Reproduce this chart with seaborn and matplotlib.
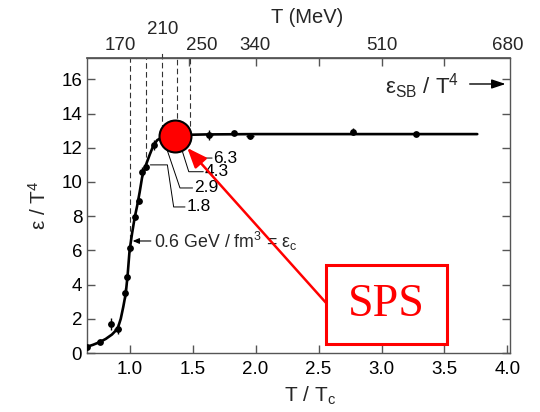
import matplotlib
matplotlib.use("Agg")
import matplotlib.pyplot as plt
import seaborn as sns
import numpy as np
import pandas as pd
from matplotlib.patches import Rectangle

# ---- data ----
curve_x = [0.66, 0.71, 0.76, 0.81, 0.86, 0.905, 0.93, 0.95, 0.97, 0.985, 1.0, 1.02, 1.04,
           1.06, 1.08, 1.10, 1.13, 1.16, 1.19, 1.22, 1.26, 1.32, 1.40, 1.60, 2.0, 2.5,
           3.0, 3.5, 3.76]
curve_y = [0.36, 0.48, 0.63, 0.82, 1.08, 1.42, 2.0, 2.7, 3.5, 4.6, 6.0, 7.0, 7.9,
           8.6, 9.4, 10.3, 11.0, 11.6, 12.15, 12.45, 12.62, 12.7, 12.75, 12.78, 12.8, 12.8,
           12.8, 12.8, 12.8]

pts_x = [0.66, 0.762, 0.852, 0.905, 0.966, 0.98, 1.0, 1.04, 1.077, 1.098, 1.13, 1.19,
         1.634, 1.825, 1.958, 2.77, 3.275]
pts_y = [0.37, 0.63, 1.70, 1.40, 3.49, 4.43, 6.12, 7.97, 8.89, 10.6, 10.9, 12.16,
         12.75, 12.85, 12.69, 12.94, 12.8]
pts_yerr = [0.1, 0.1, 0.35, 0.3, 0.3, 0.2, 0.2, 0.2, 0.2, 0.3, 0.2, 0.3,
            0.3, 0.1, 0.2, 0.2, 0.1]
pts_xerr = [0.0, 0.0, 0.02, 0.03, 0.01, 0.01, 0.01, 0.01, 0.01, 0.01, 0.01, 0.01,
            0.03, 0.01, 0.03, 0.0, 0.0]

# energy-density marks (GeV/fm^3) at T/Tc positions, and curve heights there
eps_x = [1.005, 1.13, 1.254, 1.376, 1.476]
eps_top = [17.25, 17.25, 17.6, 17.25, 17.25]
eps_bottom = [6.6, 10.95, 12.5, 12.7, 12.75]
eps_labels = ["1.8", "2.9", "4.3", "6.3"]

top_tick_vals = [1.47, 2.0, 2.5, 3.0, 3.5]
top_labels = ["170", "210", "250", "340", "510", "680"]
top_label_x = [0.926, 1.264, 1.575, 1.997, 3.0, 4.0]
top_label_y = [1.044, 1.095, 1.044, 1.044, 1.044, 1.044]

sps_x, sps_y = 1.363, 12.67

# ---- style ----
sns.set_theme(style="ticks")
plt.rcParams["font.family"] = ["Liberation Sans", "DejaVu Sans"]
plt.rcParams["mathtext.fontset"] = "custom"
plt.rcParams["mathtext.rm"] = "Liberation Sans"
plt.rcParams["mathtext.it"] = "Liberation Sans:italic"
plt.rcParams["mathtext.sf"] = "Liberation Sans"

fig = plt.figure(figsize=(5.4, 4.12), dpi=100)
ax = fig.add_axes([87 / 540, 1 - 353 / 412, 423 / 540, 295 / 412])

frame = "#555555"
for s in ax.spines.values():
    s.set_color(frame)
    s.set_linewidth(1.0)

# curve
curve_df = pd.DataFrame({"x": curve_x, "y": curve_y})
sns.lineplot(data=curve_df, x="x", y="y", ax=ax, color="black", lw=1.9,
             sort=False, estimator=None, zorder=3)

# data points with error crosses
pts_df = pd.DataFrame({"x": pts_x, "y": pts_y})
ax.errorbar(pts_x, pts_y, yerr=pts_yerr, xerr=pts_xerr, fmt="none",
            ecolor="black", elinewidth=1.0, capsize=0, zorder=3)
sns.scatterplot(data=pts_df, x="x", y="y", ax=ax, color="black", s=24,
                edgecolor="black", linewidth=0, zorder=4)

# dashed vertical lines
for xv, yt, yb in zip(eps_x, eps_top, eps_bottom):
    ax.plot([xv, xv], [yb, yt], color="#333333", lw=0.8, ls=(0, (5, 3)),
            clip_on=False, zorder=2)

# leader lines to labels
leaders = [
    ([1.165, 1.30, 1.35, 1.44], [11.0, 11.0, 8.54, 8.54]),
    ([1.29, 1.40, 1.50], [12.05, 9.65, 9.65]),
    ([1.42, 1.47, 1.585], [11.77, 10.6, 10.6]),
    ([1.475, 1.56, 1.655], [11.87, 11.4, 11.4]),
]
label_pos = [(1.455, 8.54), (1.51, 9.65), (1.595, 10.6), (1.665, 11.4)]
for (lx, ly), lab, (tx, ty) in zip(leaders, eps_labels, label_pos):
    ax.plot(lx, ly, color="black", lw=0.7, zorder=2)
    ax.text(tx, ty, lab, fontsize=12.5, ha="left", va="center", color="black")

# epsilon_c annotation
ax.annotate(r"0.6 GeV / fm$^3$ = ε$_{\rm c}$", xy=(1.025, 6.55), xytext=(1.195, 6.55),
            fontsize=12.8, va="center", ha="left",
            arrowprops=dict(arrowstyle="-|>,head_length=0.3,head_width=0.13",
                            color="black", lw=0.8, shrinkA=0, shrinkB=0))

# SPS marker
ax.plot([sps_x], [sps_y], marker="o", ms=23, mfc="#ff0000", mec="black",
        mew=1.5, zorder=6, ls="none")

# red arrow
ax.annotate("", xy=(1.458, 11.99), xytext=(2.561, 2.92),
            arrowprops=dict(arrowstyle="-|>,head_length=0.75,head_width=0.3",
                            color="#ff0000", lw=1.8, shrinkA=0, shrinkB=0,
                            mutation_scale=16), zorder=7)

# SPS box
ax.add_patch(Rectangle((2.561, 0.53), 0.96, 4.62, facecolor="white",
                       edgecolor="#ff0000", lw=2.2, zorder=8))
ax.text(3.04, 2.8, "SPS", color="#ff0000", fontsize=33, ha="center", va="center",
        family=["Liberation Serif", "DejaVu Serif"], zorder=9)

# epsilon_SB label and arrow
ax.text(3.03, 15.6, r"ε$_{\rm SB}$ / T$^4$", fontsize=16, ha="left", va="center")
ax.annotate("", xy=(3.985, 15.73), xytext=(3.70, 15.73),
            arrowprops=dict(arrowstyle="-|>,head_length=0.6,head_width=0.2",
                            color="black", lw=1.0, shrinkA=0, shrinkB=0,
                            mutation_scale=14))

# axes
ax.set_xlim(0.662, 4.02)
ax.set_ylim(0, 17.25)
ax.set_xticks([1.0, 1.5, 2.0, 2.5, 3.0, 3.5, 4.0])
ax.set_xticklabels(["1.0", "1.5", "2.0", "2.5", "3.0", "3.5", "4.0"])
ax.set_yticks(np.arange(0, 17, 2))
ax.tick_params(axis="both", direction="in", length=6, width=1.0, color=frame,
               labelsize=13.5, labelcolor="black", right=True)
ax.tick_params(axis="x", pad=6)
ax.tick_params(axis="y", pad=3.5)

secx = ax.secondary_xaxis("top")
secx.set_xticks(top_tick_vals)
secx.set_xticklabels([])
secx.tick_params(direction="in", length=6, width=1.0, color=frame)
secx.spines["top"].set_color(frame)

trans = ax.get_xaxis_transform()
for lab, lx, ly in zip(top_labels, top_label_x, top_label_y):
    ax.text(lx, ly, lab, transform=trans, fontsize=13.5, ha="center", va="center",
            clip_on=False)
ax.text(2.41, 1.136, "T (MeV)", transform=trans, fontsize=14.5, ha="center",
        va="center", clip_on=False)

ax.set_xlabel(r"T / T$_{\rm c}$", fontsize=15)
ax.set_ylabel(r"ε / T$^4$", fontsize=15)
ax.xaxis.set_label_coords(0.527, -0.108)
ax.yaxis.set_label_coords(-0.087, 0.5)

fig.savefig("out.png", dpi=100)
